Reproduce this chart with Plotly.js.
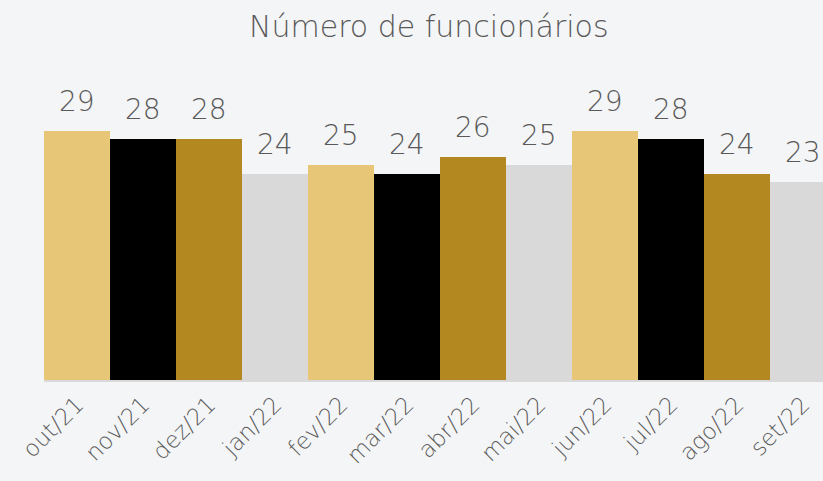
<!DOCTYPE html>
<html>
<head>
<meta charset="utf-8">
<script src="https://cdn.plot.ly/plotly-3.0.1.min.js"></script>
<style>html,body{margin:0;padding:0;background:#F4F5F7;}#chart{width:823px;height:481px;}</style>
</head>
<body>
<div id="chart"></div>
<script>
const categories = ["out/21","nov/21","dez/21","jan/22","fev/22","mar/22","abr/22","mai/22","jun/22","jul/22","ago/22","set/22"];
const values = [29, 28, 28, 24, 25, 24, 26, 25, 29, 28, 24, 23];
const palette = ["#E8C677", "#000000", "#B38820", "#D9D9D9"];
const barColors = categories.map((c, i) => palette[i % 4]);
const FONT = "'DejaVu Sans', sans-serif";
const TXT = "#595959";

const trace = {
  type: "bar",
  x: categories,
  y: values,
  marker: {color: barColors, line: {width: 0}},
  hoverinfo: "none"
};

const annotations = categories.map((c, i) => ({
  x: c, y: values[i], xref: "x", yref: "y",
  text: String(values[i]), showarrow: false,
  yanchor: "bottom", yshift: 11,
  font: {family: FONT, size: 28, color: TXT, weight: 200}
}));

const layout = {
  width: 823, height: 481,
  paper_bgcolor: "#F4F5F7", plot_bgcolor: "#F4F5F7",
  margin: {l: 44, r: 0, t: 50, b: 101},
  bargap: 0,
  showlegend: false,
  title: {text: "Número de funcionários", x: 0.521, xanchor: "center", y: 0.945, yanchor: "middle",
          font: {family: FONT, size: 30, color: TXT, weight: 200}},
  xaxis: {
    type: "category", range: [-0.5, 11.303], fixedrange: true,
    showgrid: false, zeroline: false, showline: true, linecolor: "#D9D9D9", linewidth: 2,
    ticks: "", tickangle: -45,
    tickfont: {family: FONT, size: 23, color: TXT, weight: 200}
  },
  yaxis: {range: [0, 38.4], visible: false, showgrid: false, zeroline: false, fixedrange: true},
  annotations: annotations
};

Plotly.newPlot("chart", [trace], layout, {displayModeBar: false, staticPlot: true});
</script>
</body>
</html>
